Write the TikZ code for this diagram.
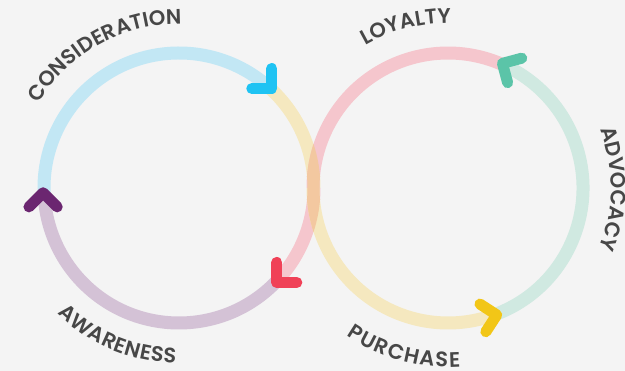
\documentclass[tikz,border=0pt]{standalone}
\usepackage{fontspec}
\newfontfamily\lblfont{Poppins SemiBold}
\usetikzlibrary{decorations.text,calc}
\definecolor{bg}{HTML}{F4F4F4}
\definecolor{txt}{HTML}{474747}
\definecolor{arcblue}{HTML}{C2E7F4}
\definecolor{arcyellow}{HTML}{F5E8BF}
\definecolor{arcpink}{HTML}{F5C6CD}
\definecolor{arcpurple}{HTML}{D4C2D6}
\definecolor{arcmint}{HTML}{D0E9E1}
\definecolor{arcorange}{HTML}{F3C8A0}
\definecolor{chcyan}{HTML}{1FC3F3}
\definecolor{chred}{HTML}{F04157}
\definecolor{chpurple}{HTML}{6B2670}
\definecolor{chteal}{HTML}{5BC4A8}
\definecolor{chyellow}{HTML}{F2C617}
\newcommand\lbltext{\lblfont\fontsize{21pt}{21pt}\selectfont}
\tikzset{
  ring/.style={line width=13pt, line cap=butt},
  chev/.style={line width=11pt, line cap=round, line join=round},
  lbl/.style={decorate, decoration={text along path, text align=center, text color=txt}},
  lblfit/.style={decorate, decoration={text along path, text align=fit to path, text color=txt}},
}
% center, angle, direction, colour
\newcommand\mychev[4]{%
  \path (#1) ++(#2:136pt) coordinate (T);
  \draw[chev, #4] (T) ++(#3+135:20pt) -- (T) -- ++(#3-135:20pt);
}
% centre, mid angle, radius, sign (1 = clockwise), text
\newcommand\arclabel[5]{%
  \path[lbl, decoration={text={|\lbltext|#5}}] (#1) ++({#2+#4*45}:#3) arc[start angle={#2+#4*45}, end angle={#2-#4*45}, radius=#3];
}
\begin{document}
\begin{tikzpicture}[x=1pt,y=1pt]
\useasboundingbox (0,0) rectangle (625,371);
\fill[bg] (0,0) rectangle (625,371);
\coordinate (L) at (179,183);
\coordinate (R) at (448,183);
% left circle arcs
\draw[ring, arcpurple] (L) ++(-44:135pt) arc[start angle=-44, end angle=-178, radius=135pt];
\draw[ring, arcblue] (L) ++(182:135pt) arc[start angle=182, end angle=47, radius=135pt];
\draw[ring, arcyellow] (L) ++(47:135pt) arc[start angle=47, end angle=0, radius=135pt];
\draw[ring, arcpink] (L) ++(0:135pt) arc[start angle=0, end angle=-44, radius=135pt];
% right circle arcs
\draw[ring, arcyellow] (R) ++(180:135pt) arc[start angle=180, end angle=291, radius=135pt];
\draw[ring, arcmint] (R) ++(-69:135pt) arc[start angle=-69, end angle=66.4, radius=135pt];
\draw[ring, arcpink] (R) ++(66.4:135pt) arc[start angle=66.4, end angle=180, radius=135pt];
% overlap
\begin{scope}[even odd rule]
  \clip (L) circle[radius=141.5pt] (L) circle[radius=128.5pt];
  \fill[arcorange] (R) circle[radius=141.5pt] (R) circle[radius=128.5pt];
\end{scope}
% chevrons
\mychev{L}{47}{-45}{chcyan}
\mychev{L}{-44}{-135}{chred}
\mychev{L}{182}{90}{chpurple}
\mychev{R}{66.4}{150}{chteal}
\mychev{R}{-69}{12}{chyellow}
% labels
\arclabel{L}{119}{164pt}{1}{CONSIDERATION}
\path[lblfit, decoration={text={|\lbltext|AWARENESS}}] (L) ++(226:175pt) arc[start angle=226, end angle=269, radius=175pt];
\arclabel{R}{104.5}{165pt}{1}{LOYALTY}
\arclabel{R}{-0.3}{163pt}{1}{ADVOCACY}
\path[lblfit, decoration={text={|\lbltext|PURCHASE}}] (R) ++(235.5:179pt) arc[start angle=235.5, end angle=274, radius=179pt];
\end{tikzpicture}
\end{document}
